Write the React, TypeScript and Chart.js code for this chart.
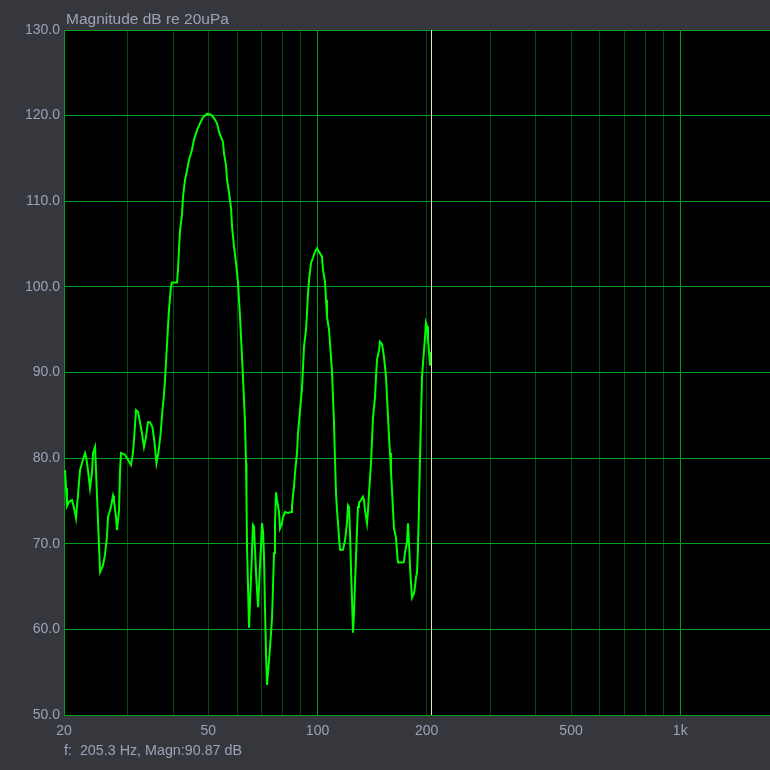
import React, { useEffect, useRef } from "react";
import { Chart, registerables } from "chart.js";

Chart.register(...registerables);

// Frequency (Hz) of each traced point of the spectrum
const FREQ: number[] = [
  20.13, 20.26, 20.38, 20.64, 21.04, 21.31, 21.58, 21.86, 22.14, 22.42, 22.86, 23.0, 23.29, 23.59, 23.89, 24.05,
  24.36, 24.67, 24.83, 24.99, 25.15, 25.62, 25.94, 26.27, 26.44, 26.95, 27.3, 27.47, 27.82, 28.0, 28.36, 28.54,
  28.72, 29.46, 30.02, 30.6, 30.99, 31.19, 31.59, 31.99, 32.39, 32.81, 33.23, 33.65, 34.08, 34.52, 35.07, 35.52,
  35.97, 36.43, 36.9, 37.37, 37.73, 37.97, 38.45, 38.94, 39.44, 39.69, 40.98, 41.24, 41.5, 41.77, 42.3, 42.57,
  43.12, 43.67, 44.22, 45.07, 45.65, 46.53, 47.42, 48.33, 49.57, 50.84, 51.83, 52.83, 53.51, 54.88, 55.23, 55.94,
  56.3, 57.02, 57.75, 58.12, 58.85, 59.6, 60.37, 60.75, 61.14, 61.53, 61.92, 62.31, 62.71, 63.11, 63.51, 63.71,
  63.92, 64.33, 64.74, 65.15, 65.57, 65.98, 66.4, 66.82, 67.25, 67.68, 68.11, 68.55, 68.98, 69.42, 69.87, 70.31,
  70.76, 71.2, 71.66, 72.11, 72.57, 73.04, 73.5, 73.97, 74.44, 74.91, 75.39, 75.86, 76.34, 76.83, 77.32, 78.3,
  78.8, 79.81, 80.32, 81.35, 82.91, 84.51, 85.04, 85.59, 86.13, 86.68, 87.79, 88.35, 89.48, 90.63, 91.2, 91.78,
  92.96, 93.55, 94.15, 94.75, 95.96, 97.18, 98.41, 99.67, 100.94, 102.88, 103.54, 104.86, 105.53, 106.2, 107.56, 108.25,
  108.94, 109.63, 110.33, 111.03, 111.74, 112.45, 113.17, 113.89, 114.62, 115.35, 117.56, 119.07, 119.83, 120.59, 121.36, 122.14,
  122.92, 123.7, 124.49, 125.28, 126.06, 126.86, 127.67, 128.48, 129.3, 130.12, 131.79, 133.47, 134.32, 135.18, 136.9, 137.78,
  138.66, 140.43, 141.33, 142.23, 144.05, 144.97, 145.89, 147.76, 148.7, 150.6, 151.56, 152.51, 154.46, 155.44, 156.43, 157.42,
  158.43, 159.43, 160.45, 161.47, 162.5, 164.58, 165.63, 166.69, 170.97, 173.15, 174.26, 176.48, 177.61, 178.74, 179.88, 181.03,
  182.19, 184.5, 185.68, 186.86, 188.05, 189.25, 190.46, 191.67, 192.9, 194.13, 195.36, 196.59, 197.84, 199.1, 200.37, 201.64,
  202.93, 204.2, 205.3,
];

// Magnitude (dB re 20uPa) at each frequency above
const MAG: number[] = [
  78.6, 76.5, 74.4, 74.9, 75.1, 74.2, 73.0, 75.7, 78.6, 79.4, 80.6, 80.2, 78.6, 76.5, 78.3, 80.6,
  81.3, 75.5, 72.4, 69.6, 66.7, 67.5, 68.7, 70.8, 73.1, 74.3, 75.6, 75.1, 73.1, 71.6, 73.9, 78.4,
  80.6, 80.4, 79.8, 79.2, 80.6, 82.1, 85.6, 85.4, 84.2, 82.9, 81.3, 82.4, 84.2, 84.2, 83.6, 81.9,
  79.4, 80.7, 82.7, 85.6, 87.4, 89.1, 93.2, 97.3, 100.0, 100.5, 100.5, 102.0, 104.3, 106.6, 108.4, 110.5,
  112.5, 113.6, 114.8, 116.0, 117.2, 118.3, 119.1, 119.8, 120.2, 120.1, 119.7, 119.1, 118.1, 116.9, 115.6, 114.2,
  112.5, 111.0, 109.2, 107.0, 104.7, 102.8, 100.5, 98.5, 96.5, 94.1, 91.8, 89.4, 86.8, 84.1, 79.4, 75.1,
  69.6, 65.0, 60.2, 63.1, 66.1, 69.3, 72.2, 72.0, 69.3, 66.6, 64.6, 62.6, 65.0, 67.5, 69.9, 72.4,
  71.4, 68.5, 62.3, 57.2, 53.5, 55.0, 56.4, 57.9, 59.6, 61.3, 65.0, 68.9, 72.4, 76.0, 75.1, 73.7,
  71.8, 72.4, 73.1, 73.7, 73.6, 73.7, 74.3, 75.7, 76.6, 78.3, 80.6, 82.9, 85.6, 88.2, 90.6, 93.0,
  95.0, 97.0, 99.3, 100.8, 102.8, 103.4, 104.1, 104.5, 104.1, 103.5, 102.0, 100.6, 98.5, 96.5, 95.0, 93.4,
  91.8, 90.1, 87.1, 84.1, 79.8, 75.9, 73.9, 72.4, 70.7, 69.3, 69.3, 70.4, 71.4, 72.5, 74.5, 74.3,
  71.3, 66.9, 63.4, 59.6, 61.9, 65.4, 68.5, 71.6, 74.3, 74.8, 75.1, 75.5, 75.1, 73.9, 72.4, 73.9,
  75.9, 79.4, 82.1, 84.8, 87.1, 89.5, 91.5, 92.6, 93.6, 93.3, 92.6, 91.8, 89.5, 87.1, 84.8, 82.5,
  80.6, 78.3, 76.3, 73.9, 71.8, 70.7, 69.0, 67.8, 67.8, 67.9, 69.0, 70.2, 72.4, 70.1, 67.3, 65.4,
  63.7, 64.2, 65.0, 66.1, 66.6, 69.6, 74.5, 80.1, 84.8, 89.5, 91.1, 92.6, 94.1, 95.8, 95.4, 93.8,
  92.4, 90.9, 90.87,
];

const X_MIN = 20;
const X_MAX = 1768;
const Y_MIN = 50;
const Y_MAX = 130;
const Y_STEP = 10;
const X_GRID: number[] = [20, 30, 40, 50, 60, 70, 80, 90, 100, 200, 300, 400, 500, 600, 700, 800, 900, 1000];
const X_MAJOR: number[] = [100, 1000];
const X_LABEL_VALUES: number[] = [20, 50, 100, 200, 500, 1000];
const X_LABEL_TEXT: string[] = ["20", "50", "100", "200", "500", "1k"];
const CURSOR_F = 205.3;
const CURSOR_DB = 90.87;
const TITLE = "Magnitude dB re 20uPa";

const BG = "#36373c";
const TEXT = "#9aa3b6";
const GREEN = "#00a01e";
const DARK_GREEN = "#044a12";
const CURVE = "#00ff00";
const CURSOR = "#e8e8b0";
const FONT = "'Liberation Sans', Arial, sans-serif";

export default function App() {
  const ref = useRef<HTMLCanvasElement | null>(null);

  useEffect(() => {
    document.body.style.margin = "0";
    document.body.style.background = BG;
    const canvas = ref.current;
    if (!canvas) return;

    const decor = {
      id: "decor",
      beforeDraw(chart: any) {
        const { ctx, chartArea } = chart;
        ctx.save();
        ctx.fillStyle = BG;
        ctx.fillRect(0, 0, chart.width, chart.height);
        ctx.fillStyle = "#000000";
        ctx.fillRect(chartArea.left, chartArea.top, chartArea.right - chartArea.left, chartArea.bottom - chartArea.top);
        ctx.restore();
      },
      afterDatasetsDraw(chart: any) {
        const { ctx, chartArea, scales } = chart;
        const x = Math.round(scales.x.getPixelForValue(CURSOR_F)) + 0.5;
        ctx.save();
        ctx.strokeStyle = CURSOR;
        ctx.lineWidth = 1;
        ctx.beginPath();
        ctx.moveTo(x, chartArea.top);
        ctx.lineTo(x, chartArea.bottom);
        ctx.stroke();
        ctx.restore();
      },
      afterDraw(chart: any) {
        const { ctx, chartArea } = chart;
        ctx.save();
        ctx.fillStyle = TEXT;
        ctx.textAlign = "left";
        ctx.textBaseline = "alphabetic";
        ctx.font = `15.5px ${FONT}`;
        ctx.fillText(TITLE, chartArea.left + 2, 24);
        ctx.font = `14.3px ${FONT}`;
        ctx.fillText(`f:  ${CURSOR_F} Hz, Magn:${CURSOR_DB} dB`, chartArea.left, 755);
        ctx.restore();
      },
    };

    const chart = new Chart(canvas, {
      type: "line",
      data: {
        datasets: [
          {
            data: FREQ.map((f, i) => ({ x: f, y: MAG[i] })),
            borderColor: CURVE,
            borderWidth: 2,
            pointRadius: 0,
            tension: 0,
            fill: false,
          },
        ],
      },
      options: {
        responsive: false,
        animation: false,
        devicePixelRatio: 1,
        layout: { padding: { top: 30, right: 0, left: 0, bottom: 0 } },
        plugins: { legend: { display: false }, tooltip: { enabled: false }, title: { display: false } },
        scales: {
          x: {
            type: "logarithmic",
            min: X_MIN,
            max: X_MAX,
            afterFit: (s: any) => {
              s.height = 55;
            },
            afterBuildTicks: (s: any) => {
              s.ticks = X_GRID.map((v) => ({ value: v }));
            },
            grid: {
              drawTicks: false,
              color: (c: any) => (X_MAJOR.includes(c.tick?.value) ? GREEN : DARK_GREEN),
              lineWidth: 1,
            },
            border: { color: GREEN, width: 1 },
            ticks: {
              autoSkip: false,
              maxRotation: 0,
              minRotation: 0,
              padding: 8,
              color: TEXT,
              font: { family: FONT, size: 14 },
              callback: (v: any) => {
                const i = X_LABEL_VALUES.indexOf(Number(v));
                return i >= 0 ? X_LABEL_TEXT[i] : "";
              },
            },
          },
          y: {
            type: "linear",
            min: Y_MIN,
            max: Y_MAX,
            afterFit: (s: any) => {
              s.width = 64;
            },
            grid: { drawTicks: false, color: GREEN, lineWidth: 1 },
            border: { color: GREEN, width: 1 },
            ticks: {
              stepSize: Y_STEP,
              padding: 4,
              color: TEXT,
              font: { family: FONT, size: 14 },
              callback: (v: any) => Number(v).toFixed(1),
            },
          },
        },
      },
      plugins: [decor],
    });

    return () => chart.destroy();
  }, []);

  return (
    <div style={{ width: 770, height: 770, background: BG }}>
      <canvas ref={ref} width={770} height={770} style={{ display: "block" }} />
    </div>
  );
}
